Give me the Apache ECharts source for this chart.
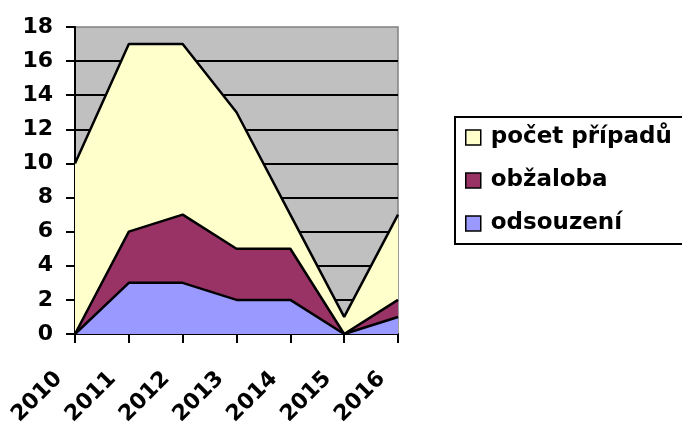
<!DOCTYPE html>
<html>
<head>
<meta charset="utf-8">
<script src="https://cdn.jsdelivr.net/npm/echarts@6/dist/echarts.min.js"></script>
<style>
  html, body { margin: 0; padding: 0; background: #fff; }
  #chart { width: 682px; height: 426px; }
</style>
</head>
<body>
<div id="chart"></div>
<script>
// data
var years = ['2010', '2011', '2012', '2013', '2014', '2015', '2016'];
var pocetPripadu = [10, 17, 17, 13, 7, 1, 7];
var obzaloba = [0, 6, 7, 5, 5, 0, 2];
var odsouzeni = [0, 3, 3, 2, 2, 0, 1];

var font = 'DejaVu Sans';

function areaSeries(name, data, color) {
    return {
        name: name,
        type: 'line',
        data: data,
        symbol: 'none',
        lineStyle: { color: '#000', width: 2.5 },
        itemStyle: { color: color, borderColor: '#000', borderWidth: 1 },
        areaStyle: { color: color, opacity: 1 }
    };
}

var myChart = echarts.init(document.getElementById('chart'));
var option = {
    animation: false,
    backgroundColor: '#fff',
    grid: {
        left: 75, right: 284, top: 27, bottom: 92,
        outerBoundsMode: 'none',
        containLabel: false,
        show: true,
        backgroundColor: '#C0C0C0',
        borderColor: '#808080',
        borderWidth: 1.5
    },
    graphic: [{
        type: 'rect',
        shape: { x: 455, y: 117, width: 300, height: 127 },
        style: { fill: '#fff', stroke: '#000', lineWidth: 2 },
        z: 0
    }],
    legend: {
        orient: 'vertical',
        left: 465,
        top: 126,
        padding: 0,
        itemWidth: 15,
        itemHeight: 15,
        itemGap: 20,
        icon: 'rect',
        data: ['počet případů', 'obžaloba', 'odsouzení'],
        itemStyle: { borderColor: '#000', borderWidth: 1.5 },
        textStyle: {
            fontFamily: font, fontWeight: 'bold', fontSize: 23,
            color: '#000', lineHeight: 23, padding: [0, 0, 0, 5]
        },
        z: 5
    },
    xAxis: {
        type: 'category',
        data: years,
        boundaryGap: false,
        axisLine: { lineStyle: { color: '#000', width: 2 } },
        axisTick: { show: true, length: 9, inside: false, lineStyle: { color: '#000', width: 2 } },
        axisLabel: {
            rotate: 45,
            margin: 25,
            padding: [0, 23, 0, 0],
            interval: 0,
            fontFamily: font, fontWeight: 'bold', fontSize: 22, color: '#000'
        },
        splitLine: { show: false }
    },
    yAxis: {
        type: 'value',
        min: 0, max: 18, interval: 2,
        axisLine: { show: true, lineStyle: { color: '#000', width: 2 } },
        axisTick: { show: true, length: 9, lineStyle: { color: '#000', width: 2 } },
        axisLabel: {
            margin: 22,
            fontFamily: font, fontWeight: 'bold', fontSize: 22, color: '#000'
        },
        splitLine: { show: true, showMaxLine: false, lineStyle: { color: '#000', width: 2 } }
    },
    series: [
        areaSeries('počet případů', pocetPripadu, '#FFFFCC'),
        areaSeries('obžaloba', obzaloba, '#993366'),
        areaSeries('odsouzení', odsouzeni, '#9999FF')
    ]
};
myChart.setOption(option);
</script>
</body>
</html>
